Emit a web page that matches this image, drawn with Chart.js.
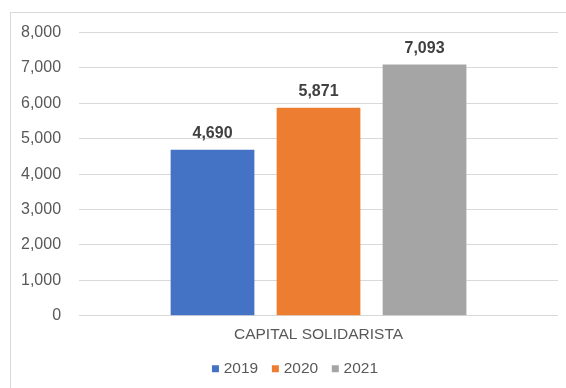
<!DOCTYPE html>
<html>
<head>
<meta charset="utf-8">
<script src="https://cdn.jsdelivr.net/npm/chart.js@4"></script>
<style>
  html, body { margin: 0; padding: 0; background: #ffffff; }
  #wrap { position: relative; width: 566px; height: 388px; }
</style>
</head>
<body>
<div id="wrap"><canvas id="chart" width="566" height="388"></canvas></div>
<script>
// Chart data
const categories = ['CAPITAL SOLIDARISTA'];
const seriesNames = ['2019', '2020', '2021'];
const values2019 = [4690];
const values2020 = [5871];
const values2021 = [7093];
const seriesColors = ['#4472C4', '#ED7D31', '#A5A5A5'];

const FONT = "'Liberation Sans', Arial, sans-serif";

// Outer frame of the chart area
const framePlugin = {
  id: 'frame',
  beforeDraw(chart) {
    const ctx = chart.ctx;
    ctx.save();
    ctx.strokeStyle = '#d9d9d9';
    ctx.lineWidth = 1;
    ctx.strokeRect(10.5, 12.5, 600, 400);
    ctx.restore();
  }
};

// The legend is centred on the full frame, which runs a little past the right edge
const legendShift = {
  id: 'legendShift',
  afterLayout(chart) {
    if (chart.legend) {
      chart.legend.left += 16;
      chart.legend.right += 16;
    }
  }
};

// Value labels above each bar
const valueLabels = {
  id: 'valueLabels',
  afterDatasetsDraw(chart) {
    const ctx = chart.ctx;
    ctx.save();
    ctx.font = "bold 16px " + FONT;
    ctx.fillStyle = '#404040';
    ctx.textAlign = 'center';
    ctx.textBaseline = 'alphabetic';
    chart.data.datasets.forEach((ds, i) => {
      const meta = chart.getDatasetMeta(i);
      meta.data.forEach((bar, j) => {
        const v = ds.data[j];
        ctx.fillText(v.toLocaleString('en-US'), bar.x, bar.y - 12);
      });
    });
    ctx.restore();
  }
};

new Chart(document.getElementById('chart'), {
  type: 'bar',
  data: {
    labels: categories,
    datasets: [
      { label: seriesNames[0], data: values2019, backgroundColor: seriesColors[0] },
      { label: seriesNames[1], data: values2020, backgroundColor: seriesColors[1] },
      { label: seriesNames[2], data: values2021, backgroundColor: seriesColors[2] }
    ]
  },
  options: {
    responsive: false,
    animation: false,
    devicePixelRatio: 1,
    categoryPercentage: 0.664,
    barPercentage: 0.79,
    layout: { padding: { left: 3, right: 8, top: 32.5, bottom: 1.5 } },
    plugins: {
      legend: {
        position: 'bottom',
        labels: {
          font: { family: FONT, size: 15.5 },
          color: '#595959',
          usePointStyle: true,
          pointStyle: 'rect',
          boxWidth: 1,
          boxHeight: 7,
          padding: 16.7
        }
      },
      tooltip: { enabled: false }
    },
    scales: {
      x: {
        grid: { display: false },
        border: { display: false },
        ticks: { font: { family: FONT, size: 15.5 }, color: '#595959', padding: 2 },
        afterFit: (scale) => { scale.height -= 2; }
      },
      y: {
        min: 0,
        max: 8000,
        ticks: {
          stepSize: 1000,
          font: { family: FONT, size: 16 },
          color: '#595959',
          padding: 18,
          callback: (v) => v.toLocaleString('en-US')
        },
        grid: { color: '#d9d9d9', lineWidth: 1, drawTicks: false },
        border: { display: false }
      }
    }
  },
  plugins: [framePlugin, legendShift, valueLabels]
});
</script>
</body>
</html>
